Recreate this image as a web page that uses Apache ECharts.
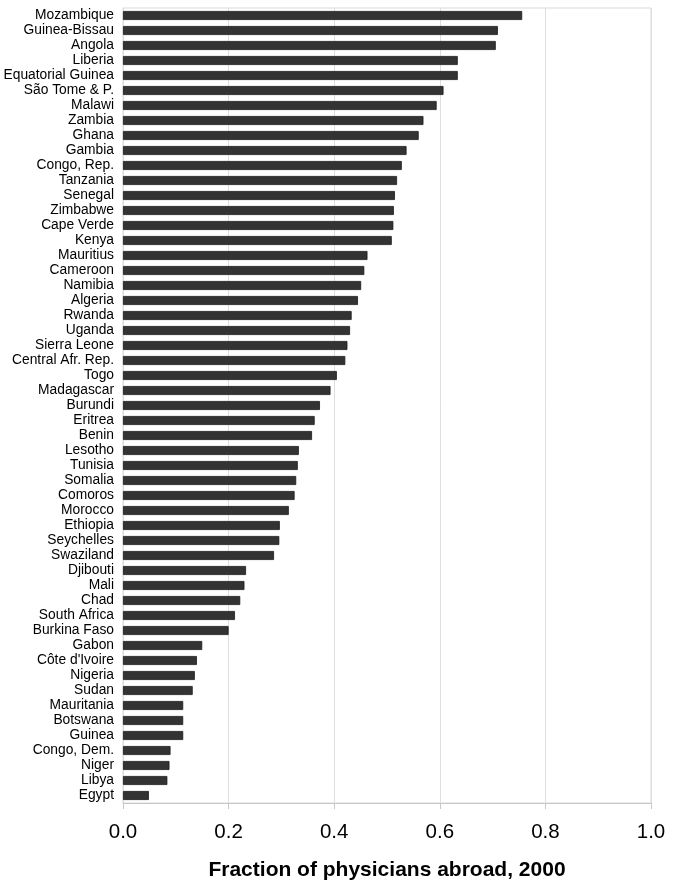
<!DOCTYPE html>
<html><head><meta charset="utf-8">
<script src="https://cdn.jsdelivr.net/npm/echarts@6/dist/echarts.min.js"></script>
<style>html,body{margin:0;padding:0;background:#fff}#c{width:685px;height:893px}</style>
</head><body><div id="c"></div>
<script>
const countries = ["Mozambique","Guinea-Bissau","Angola","Liberia","Equatorial Guinea","São Tome & P.","Malawi","Zambia","Ghana","Gambia","Congo, Rep.","Tanzania","Senegal","Zimbabwe","Cape Verde","Kenya","Mauritius","Cameroon","Namibia","Algeria","Rwanda","Uganda","Sierra Leone","Central Afr. Rep.","Togo","Madagascar","Burundi","Eritrea","Benin","Lesotho","Tunisia","Somalia","Comoros","Morocco","Ethiopia","Seychelles","Swaziland","Djibouti","Mali","Chad","South Africa","Burkina Faso","Gabon","Côte d'Ivoire","Nigeria","Sudan","Mauritania","Botswana","Guinea","Congo, Dem.","Niger","Libya","Egypt"];
const fractionAbroad = [0.756,0.710,0.706,0.634,0.634,0.607,0.594,0.569,0.560,0.537,0.528,0.519,0.515,0.513,0.512,0.509,0.463,0.457,0.451,0.445,0.433,0.430,0.425,0.421,0.405,0.393,0.373,0.363,0.358,0.333,0.331,0.328,0.325,0.314,0.297,0.296,0.286,0.233,0.230,0.222,0.212,0.200,0.150,0.140,0.136,0.132,0.114,0.114,0.114,0.090,0.088,0.084,0.049];
const xTitle = "Fraction of physicians abroad, 2000";

const chart = echarts.init(document.getElementById('c'), null, {renderer:'canvas'});
chart.setOption({
  animation:false,
  backgroundColor:'#fff',
  grid:{left:123, right:34, top:8, bottom:90, containLabel:false, show:true, borderColor:'#d9d9d9', borderWidth:1},
  xAxis:{type:'value', min:0, max:1, interval:0.2,
    axisLine:{show:true, lineStyle:{color:'#c8c8c8', width:1}},
    axisTick:{show:true, length:6, lineStyle:{color:'#c8c8c8'}},
    splitLine:{show:true, lineStyle:{color:'#dedede', width:1}},
    axisLabel:{color:'#000', fontSize:20.5, fontFamily:'Liberation Sans, Arial, sans-serif', margin:19, formatter:v=>v.toFixed(1)},
    name:xTitle, nameLocation:'middle', nameGap:57,
    nameTextStyle:{color:'#000', fontSize:21, fontWeight:'bold', fontFamily:'Liberation Sans, Arial, sans-serif'}
  },
  yAxis:{type:'category', data:countries, inverse:true,
    axisLine:{show:false}, axisTick:{show:false},
    axisLabel:{color:'#000', fontSize:13.8, fontFamily:'Liberation Sans, Arial, sans-serif', margin:9, interval:0}
  },
  series:[{type:'bar', data:fractionAbroad, barWidth:9,
    itemStyle:{color:'#333333', borderColor:'#1a1a1a', borderWidth:0.8}}]
});
</script></body></html>
